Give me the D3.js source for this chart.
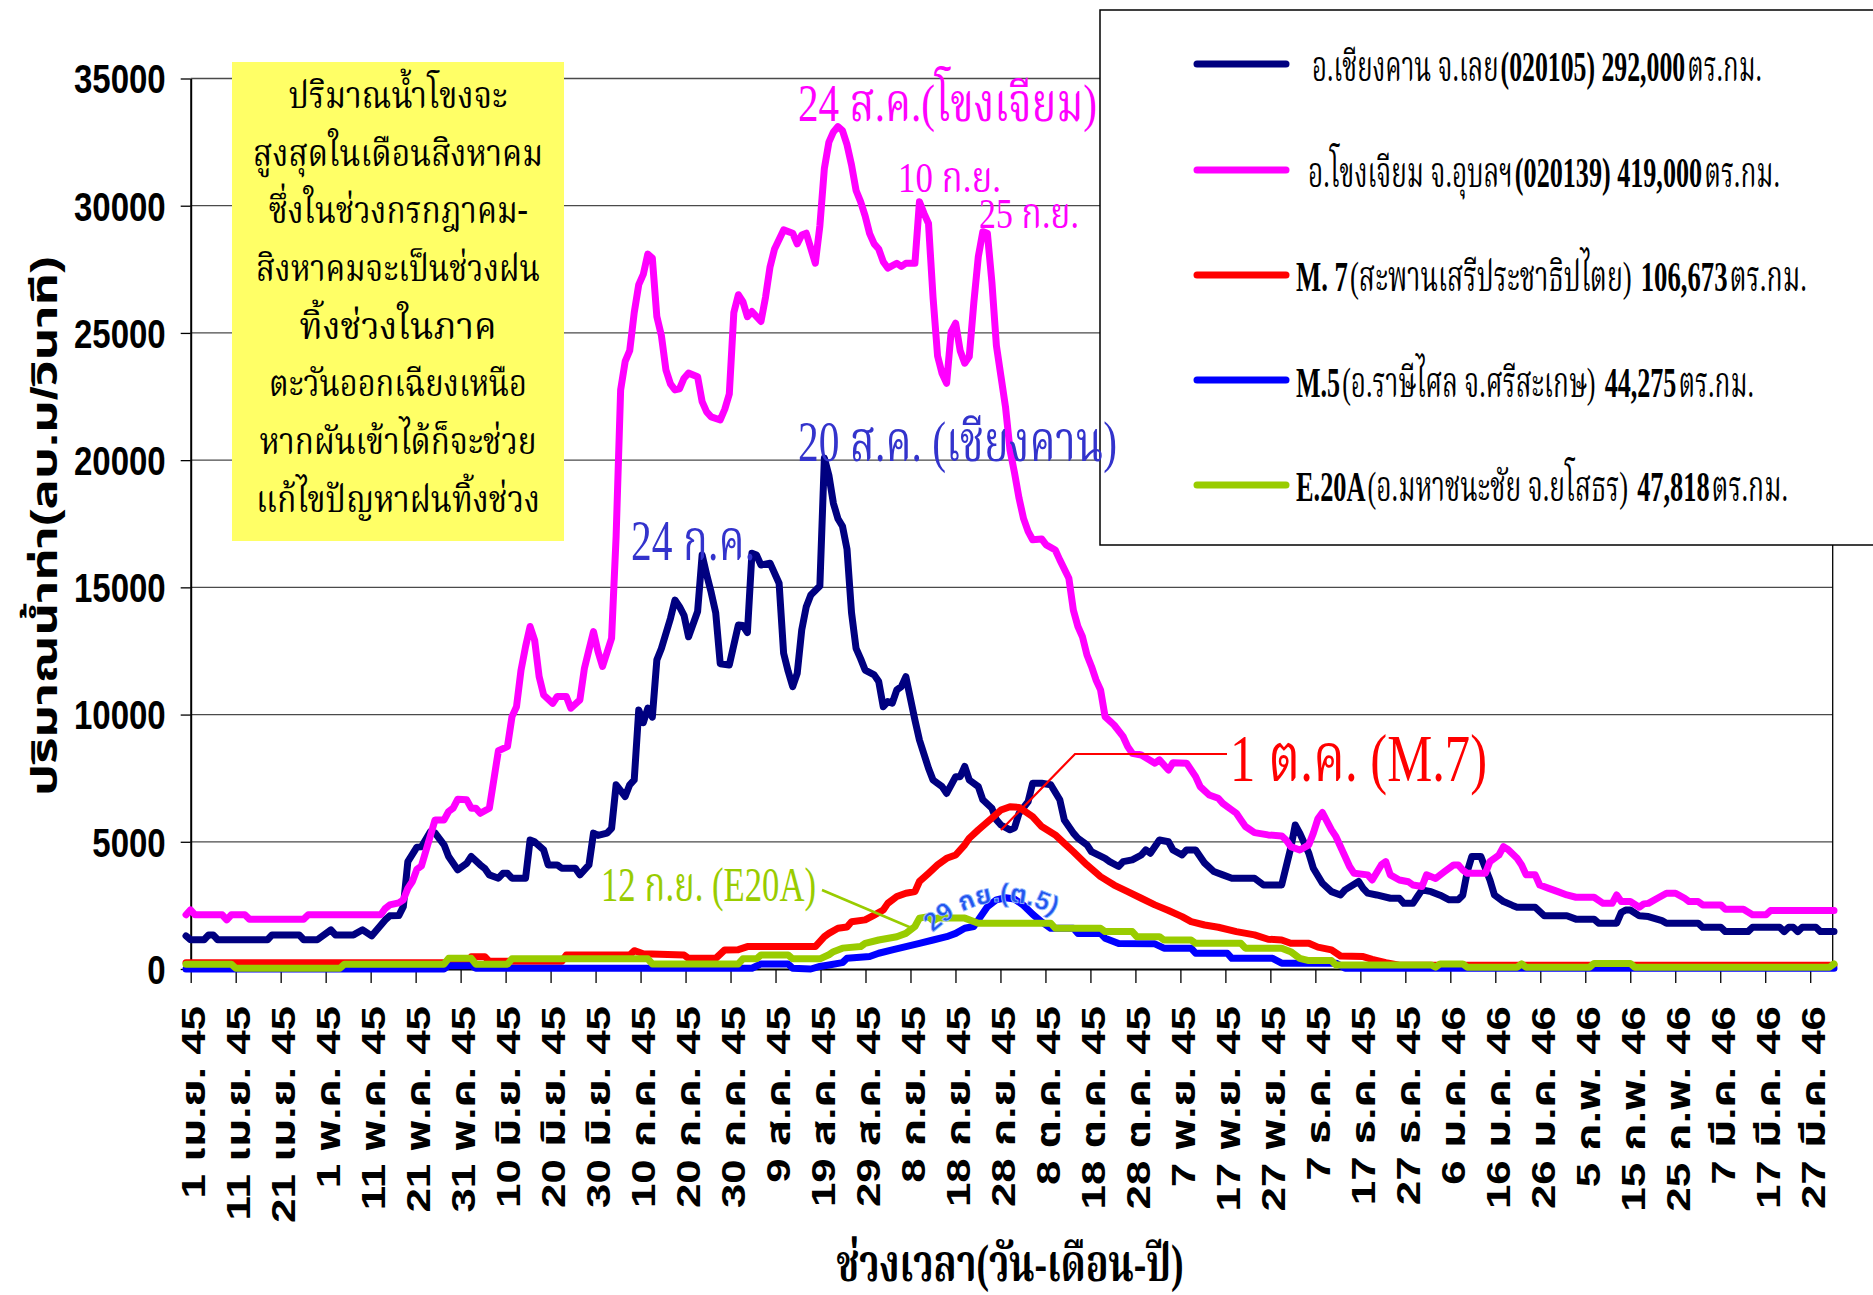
<!DOCTYPE html>
<html>
<head>
<meta charset="utf-8">
<script src="https://cdn.jsdelivr.net/npm/d3@7"></script>
<style>
  body { margin: 0; background: #fff; }
  svg { display: block; }
</style>
</head>
<body>
<svg id="chart" width="1873" height="1295"></svg>
<script>
// Daily discharge (m3/s), 1 เม.ย. 2545 – 31 มี.ค. 2546.
// Each pair is [day index from 1 เม.ย. 45, discharge].
const chiangKhan = [[0,1300],[1,1150],[4,1150],[5,1340],[6,1340],[7,1150],[18,1150],[19,1340],[25,1340],[26,1150],[29,1150],[32,1540],[33,1340],[37,1340],[39,1540],[41,1300],[44,1930],[45,2090],[47,2100],[48,2450],[49,4220],[51,4790],[52,4800],[54,5400],[55,5350],[57,4880],[58,4420],[60,3900],[62,4150],[63,4420],[65,4090],[66,3950],[67,3700],[69,3570],[70,3760],[71,3760],[72,3570],[75,3570],[76,5070],[77,5000],[79,4680],[80,4090],[82,4090],[83,3960],[86,3960],[87,3700],[89,4090],[90,5340],[91,5250],[93,5340],[94,5530],[95,7240],[97,6780],[98,7240],[99,7430],[100,10180],[101,9680],[102,10250],[103,9900],[104,12150],[105,12600],[107,13780],[108,14500],[109,14240],[110,13900],[111,13060],[113,14050],[114,16270],[115,15500],[116,14800],[117,14000],[118,12000],[120,11950],[122,13520],[123,13500],[124,13220],[125,16340],[126,16270],[127,15880],[129,15950],[131,15160],[132,12410],[133,11700],[134,11100],[135,11620],[136,13330],[137,14240],[138,14700],[140,15050],[141,20080],[142,19400],[143,18300],[144,17700],[145,17400],[146,16500],[147,14000],[148,12600],[149,12200],[150,11750],[152,11560],[153,11300],[154,10310],[155,10510],[156,10450],[157,10970],[158,11100],[159,11490],[161,9790],[162,9000],[164,7890],[165,7430],[167,7170],[168,6900],[170,7560],[171,7560],[172,7960],[173,7430],[175,7170],[176,6650],[178,6320],[179,5860],[180,5660],[182,5470],[183,5550],[184,6120],[186,6580],[187,7300],[189,7300],[191,7240],[193,6650],[194,5860],[196,5340],[197,5140],[199,4880],[200,4610],[203,4350],[204,4220],[206,4030],[207,4220],[209,4290],[211,4480],[212,4680],[213,4550],[215,5070],[217,5000],[218,4680],[220,4480],[221,4680],[223,4680],[225,4160],[227,3830],[229,3700],[231,3570],[236,3570],[238,3300],[242,3300],[244,4750],[245,5660],[246,5340],[248,4550],[249,3960],[251,3370],[253,3040],[255,2910],[256,3110],[259,3440],[260,3170],[261,2980],[263,2910],[266,2780],[268,2780],[269,2580],[271,2580],[272,2850],[273,3110],[275,3040],[277,2900],[279,2720],[281,2720],[282,2900],[283,3830],[284,4420],[286,4420],[288,3500],[289,2910],[291,2650],[293,2500],[294,2430],[298,2430],[299,2260],[300,2090],[305,2090],[307,1960],[311,1960],[312,1800],[316,1800],[317,2220],[318,2320],[319,2320],[321,2090],[323,2060],[326,1900],[327,1800],[334,1800],[335,1640],[339,1640],[340,1470],[345,1470],[346,1640],[352,1640],[353,1470],[354,1640],[355,1640],[356,1470],[357,1640],[360,1640],[361,1470],[364,1470]];

const khongChiam = [[0,2130],[1,2320],[2,2130],[8,2130],[9,1930],[10,2130],[13,2130],[14,1960],[26,1960],[27,2130],[43,2130],[44,2380],[45,2520],[47,2600],[48,2720],[49,3170],[50,3440],[51,3920],[52,4050],[55,5860],[57,5860],[58,6190],[59,6320],[60,6670],[62,6650],[63,6320],[64,6320],[65,6120],[67,6320],[69,8580],[71,8740],[72,9920],[73,10310],[74,11750],[75,12670],[76,13460],[77,12930],[78,11490],[79,10770],[81,10440],[82,10710],[84,10710],[85,10250],[87,10580],[88,11820],[89,12540],[90,13260],[91,12480],[92,11890],[94,13000],[95,17000],[96,22760],[97,23880],[98,24300],[99,25800],[100,26900],[101,27300],[102,28100],[103,27940],[104,25640],[105,24900],[106,23550],[107,23000],[108,22760],[109,22800],[110,23220],[111,23420],[113,23280],[114,22300],[115,21900],[116,21700],[118,21580],[119,22000],[120,22600],[121,25800],[122,26500],[123,26230],[124,25640],[125,25840],[127,25450],[128,26400],[129,27600],[130,28300],[132,29050],[134,28920],[135,28500],[136,28850],[137,28920],[139,27740],[140,29200],[141,31470],[142,32500],[143,32900],[144,33110],[145,32950],[146,32400],[147,31600],[148,30600],[149,30160],[150,29600],[151,28900],[152,28500],[153,28300],[154,27800],[155,27550],[157,27740],[158,27610],[159,27740],[161,27740],[162,30160],[163,29700],[164,29300],[165,26400],[166,24100],[167,23400],[168,23020],[169,25050],[170,25380],[171,24300],[172,23810],[173,24070],[174,26170],[175,28000],[176,28980],[177,28920],[178,27000],[179,24500],[180,23300],[181,22100],[182,20400],[183,19500],[184,18500],[185,17700],[186,17200],[187,16870],[189,16900],[190,16670],[192,16470],[193,16080],[195,15360],[196,14100],[197,13460],[198,13060],[199,12340],[200,11890],[201,11360],[202,10970],[203,9920],[205,9590],[207,9130],[208,8740],[209,8480],[211,8410],[214,8090],[215,8220],[217,7820],[218,8110],[221,8090],[223,7560],[224,7170],[226,6840],[228,6710],[229,6510],[231,6250],[232,6120],[233,5860],[234,5600],[236,5360],[239,5270],[242,5230],[243,5070],[244,4810],[246,4680],[248,4880],[249,5340],[250,5900],[251,6150],[253,5470],[254,5200],[256,4420],[257,4030],[258,3760],[261,3700],[262,3500],[264,4090],[265,4220],[266,3700],[268,3500],[270,3430],[271,3300],[273,3240],[274,3700],[276,3560],[278,3830],[280,4090],[281,4090],[282,3890],[283,3760],[287,3760],[288,4220],[290,4480],[291,4810],[292,4700],[294,4350],[295,4090],[296,3700],[298,3700],[299,3300],[301,3170],[303,3040],[305,2910],[307,2820],[311,2820],[313,2580],[315,2580],[316,2910],[317,2650],[319,2650],[321,2430],[322,2560],[323,2580],[325,2780],[327,2980],[329,2980],[331,2780],[332,2650],[334,2650],[335,2520],[339,2520],[340,2350],[344,2350],[346,2130],[349,2130],[350,2300],[364,2300]];

const m7 = [[0,250],[62,250],[63,480],[66,480],[67,300],[83,300],[84,550],[98,550],[99,720],[101,600],[110,550],[111,420],[117,420],[119,750],[122,760],[124,880],[139,880],[141,1270],[142,1400],[144,1600],[146,1650],[147,1860],[150,1930],[152,2120],[154,2320],[155,2580],[157,2850],[159,2980],[161,3040],[162,3440],[164,3760],[166,4090],[168,4350],[170,4480],[172,4880],[173,5140],[175,5470],[178,5930],[180,6250],[182,6380],[184,6350],[187,5990],[189,5600],[192,5270],[194,4940],[196,4610],[199,4090],[202,3630],[205,3300],[208,3040],[211,2780],[214,2520],[217,2300],[220,2060],[222,1860],[225,1730],[228,1640],[232,1470],[236,1340],[239,1170],[242,1140],[244,1010],[248,1010],[250,860],[253,750],[255,510],[260,490],[262,380],[265,250],[268,150],[364,150]];

const m5 = [[0,0],[57,0],[58,130],[63,130],[64,30],[125,30],[127,200],[133,200],[134,30],[138,0],[140,100],[142,160],[145,250],[146,420],[151,490],[153,620],[156,750],[159,880],[162,1010],[165,1140],[168,1270],[170,1400],[172,1600],[174,1670],[175,1930],[177,2450],[179,2720],[181,2800],[183,2750],[185,2500],[187,2150],[189,1850],[191,1600],[196,1600],[197,1400],[202,1400],[203,1210],[206,1000],[214,990],[216,820],[222,820],[223,620],[230,620],[231,420],[240,420],[242,230],[254,230],[256,30],[364,30]];

const e20a = [[0,190],[10,190],[11,30],[34,30],[35,190],[57,190],[58,420],[63,420],[64,190],[71,190],[72,400],[102,400],[103,200],[122,200],[123,400],[126,400],[127,550],[133,550],[134,400],[140,400],[142,560],[143,680],[145,820],[149,880],[150,1010],[153,1140],[157,1270],[159,1400],[161,1670],[162,2000],[164,2060],[165,1900],[166,2000],[172,2000],[175,1800],[191,1800],[192,1600],[202,1600],[203,1470],[209,1470],[210,1270],[215,1270],[216,1140],[222,1140],[223,1010],[233,1010],[234,820],[242,820],[244,680],[246,420],[248,330],[253,330],[254,160],[275,160],[276,70],[277,200],[282,200],[283,70],[294,70],[295,200],[296,70],[310,70],[311,220],[319,220],[320,70],[363,70],[364,200]];

// legend entries: [text, bold?, gap after piece]
const seriesNames = [
  [["อ.เชียงคาน จ.เลย", 0, 2], ["(020105) 292,000", 1, 2], ["ตร.กม.", 0, 0]],
  [["อ.โขงเจียม จ.อุบลฯ", 0, 2], ["(020139) 419,000", 1, 2], ["ตร.กม.", 0, 0]],
  [["M. 7", 1, 2], ["(สะพานเสรีประชาธิปไตย)", 0, 9], ["106,673", 1, 2], ["ตร.กม.", 0, 0]],
  [["M.5", 1, 2], ["(อ.ราษีไศล จ.ศรีสะเกษ)", 0, 9], ["44,275", 1, 2], ["ตร.กม.", 0, 0]],
  [["E.20A", 1, 2], ["(อ.มหาชนะชัย จ.ยโสธร)", 0, 9], ["47,818", 1, 2], ["ตร.กม.", 0, 0]]
];
const seriesColors = ["#000080", "#FF00FF", "#FF0000", "#0000FF", "#99CC00"];

const yTickValues = [0, 5000, 10000, 15000, 20000, 25000, 30000, 35000];
const tickLabels = ["1 เม.ย. 45","11 เม.ย. 45","21 เม.ย. 45","1 พ.ค. 45","11 พ.ค. 45","21 พ.ค. 45","31 พ.ค. 45",
  "10 มิ.ย. 45","20 มิ.ย. 45","30 มิ.ย. 45","10 ก.ค. 45","20 ก.ค. 45","30 ก.ค. 45","9 ส.ค. 45","19 ส.ค. 45",
  "29 ส.ค. 45","8 ก.ย. 45","18 ก.ย. 45","28 ก.ย. 45","8 ต.ค. 45","18 ต.ค. 45","28 ต.ค. 45","7 พ.ย. 45",
  "17 พ.ย. 45","27 พ.ย. 45","7 ธ.ค. 45","17 ธ.ค. 45","27 ธ.ค. 45","6 ม.ค. 46","16 ม.ค. 46","26 ม.ค. 46",
  "5 ก.พ. 46","15 ก.พ. 46","25 ก.พ. 46","7 มี.ค. 46","17 มี.ค. 46","27 มี.ค. 46"];

const noteLines = ["ปริมาณน้ำโขงจะ","สูงสุดในเดือนสิงหาคม","ซึ่งในช่วงกรกฎาคม-","สิงหาคมจะเป็นช่วงฝน",
  "ทิ้งช่วงในภาค","ตะวันออกเฉียงเหนือ","หากผันเข้าได้ก็จะช่วย","แก้ไขปัญหาฝนทิ้งช่วง"];

// ---------------------------------------------------------------
const SANS = "'Liberation Sans', Arial, 'Noto Sans Thai', 'Noto Sans', sans-serif";
const SERIF = "'Liberation Serif', 'Times New Roman', 'Noto Serif Thai', 'Noto Sans Thai', serif";
const THAI = "'Noto Serif Thai', 'Noto Sans Thai', 'Liberation Serif', serif";
const STRETCH = 1.25;

const svg = d3.select("#chart");
const plot = { left: 190.7, right: 1832.7, top: 78.5, bottom: 969 };

const y = d3.scaleLinear().domain([0, 35000]).range([plot.bottom, plot.top]);
const xEdge = d3.scaleLinear().domain([0, 365]).range([plot.left, plot.right]);
const xBand = d3.scaleBand().domain(d3.range(365)).range([plot.left, plot.right]);
const xDay = d3.scaleLinear().domain([0, 364]).range([186, 1834]);

// text drawn with the same vertical stretch as the rest of the artwork
function stretchedText(parent, x, y0, str, opts) {
  const g = parent.append("g")
    .attr("transform", `translate(${x},${y0}) scale(1,${opts.sy || STRETCH})${opts.rotate ? ` rotate(${opts.rotate})` : ""}`);
  const t = g.append("text")
    .attr("font-family", opts.family || SANS)
    .attr("font-size", opts.size)
    .attr("font-weight", opts.weight || "normal")
    .attr("fill", opts.fill || "#000")
    .attr("text-anchor", opts.anchor || "start")
    .attr("dominant-baseline", opts.baseline || "auto")
    .text(str);
  if (opts.width) t.attr("textLength", opts.width).attr("lengthAdjust", "spacingAndGlyphs");
  return t;
}

// a row of mixed-weight pieces, squeezed horizontally into a given width
function fittedRow(parent, x, y0, pieces, width, opts) {
  const g = parent.append("g");
  const texts = pieces.map(([str, bold]) => g.append("text")
    .attr("font-family", opts.family)
    .attr("font-size", opts.size)
    .attr("font-weight", bold ? "bold" : "normal")
    .attr("dominant-baseline", "central")
    .attr("fill", "#000")
    .text(str));
  const natural = texts.map(t => t.node().getComputedTextLength());
  const gaps = d3.sum(pieces, p => p[2]);
  const k = (width - gaps) / d3.sum(natural);
  g.attr("transform", `translate(${x},${y0}) scale(${k},${opts.sy})`);
  let cx = 0;
  texts.forEach((t, i) => {
    t.attr("x", cx);
    cx += natural[i] + pieces[i][2] / k;
  });
}

// gridlines
svg.append("g").selectAll("line").data(yTickValues.filter(v => v > 0)).join("line")
  .attr("x1", plot.left).attr("x2", plot.right)
  .attr("y1", d => y(d)).attr("y2", d => y(d))
  .attr("stroke", "#4a4a4a").attr("stroke-width", 1.3);

// right border of the plot area
svg.append("line").attr("x1", plot.right).attr("x2", plot.right)
  .attr("y1", plot.top).attr("y2", plot.bottom).attr("stroke", "#000").attr("stroke-width", 1.3);

// y axis
const yAxis = svg.append("g").attr("transform", `translate(${plot.left},0)`)
  .call(d3.axisLeft(y).tickValues(yTickValues).tickSize(10).tickSizeOuter(0).tickFormat(d3.format("d")));
yAxis.select(".domain").attr("stroke", "#000").attr("stroke-width", 2);
yAxis.selectAll(".tick line").attr("stroke", "#000").attr("stroke-width", 1.3);
yAxis.selectAll(".tick text").remove();
yAxis.selectAll(".tick").each(function (d) {
  stretchedText(d3.select(this), -25, 0, String(d), { size: 33, weight: "bold", anchor: "end", baseline: "central" });
});

// x axis: ticks every ten days on category boundaries
const xAxis = svg.append("g").attr("transform", `translate(0,${plot.bottom})`)
  .call(d3.axisBottom(xEdge).tickValues(d3.range(0, 365, 10)).tickSize(14).tickSizeOuter(0).tickFormat(""));
xAxis.select(".domain").attr("stroke", "#000").attr("stroke-width", 2);
xAxis.selectAll(".tick line").attr("stroke", "#000").attr("stroke-width", 1.3);

const xLabels = svg.append("g");
tickLabels.forEach((lab, i) => {
  const cx = xBand(i * 10) + xBand.bandwidth() / 2;
  stretchedText(xLabels, cx + 1, 1006, lab, { size: 33, weight: "bold", anchor: "end", baseline: "central", rotate: -90, sy: 1.33 });
});

// axis titles
svg.append("text")
  .attr("transform", "translate(44,526) rotate(-90)")
  .attr("font-family", SANS).attr("font-weight", "bold").attr("font-size", 36)
  .attr("text-anchor", "middle").attr("dominant-baseline", "central")
  .attr("textLength", 540).attr("lengthAdjust", "spacingAndGlyphs")
  .text("ปริมาณน้ำท่า(ลบ.ม/วินาที)");
stretchedText(svg, 1010, 1281, "ช่วงเวลา(วัน-เดือน-ปี)", { size: 40, weight: "bold", family: SERIF, anchor: "middle", width: 347, sy: 1.3 });

// note box
const note = svg.append("g");
note.append("rect").attr("x", 232).attr("y", 62).attr("width", 332).attr("height", 479).attr("fill", "#FFFF66");
const noteWidths = [219, 290, 259, 284, 197, 258, 277, 284];
noteLines.forEach((ln, i) => {
  stretchedText(note, 398, 98 + i * 57.7, ln, { size: 30, family: THAI, anchor: "middle", baseline: "central", width: noteWidths[i] });
});

// series
const line = d3.line().x(d => xDay(d[0])).y(d => y(d[1]));
const allSeries = [chiangKhan, khongChiam, m7, m5, e20a];
svg.append("g").selectAll("path").data(allSeries).join("path")
  .attr("d", line)
  .attr("fill", "none")
  .attr("stroke", (d, i) => seriesColors[i])
  .attr("stroke-width", 7)
  .attr("stroke-linejoin", "round")
  .attr("stroke-linecap", "round");

// legend
const legend = svg.append("g");
legend.append("rect").attr("x", 1100).attr("y", 10).attr("width", 800).attr("height", 535)
  .attr("fill", "#fff").attr("stroke", "#000").attr("stroke-width", 1.5);
const legendY = [64, 170, 275, 380, 485];
const legendX = [1312, 1308, 1296, 1296, 1296];
const legendW = [450, 472, 511, 458, 492];
seriesNames.forEach((parts, i) => {
  legend.append("line").attr("x1", 1197).attr("x2", 1286).attr("y1", legendY[i]).attr("y2", legendY[i])
    .attr("stroke", seriesColors[i]).attr("stroke-width", 7).attr("stroke-linecap", "round");
  fittedRow(legend, legendX[i], legendY[i] + 2, parts, legendW[i], { size: 36, family: SERIF, sy: 1.2 });
});

// annotations
const ann = svg.append("g");
stretchedText(ann, 798, 121, "24 ส.ค.(โขงเจียม)", { size: 44, family: SERIF, fill: "#FF00FF", width: 299, sy: 1.2 });
stretchedText(ann, 898, 192, "10 ก.ย.", { size: 36, family: SERIF, fill: "#FF00FF", width: 103, sy: 1.2 });
stretchedText(ann, 979, 228, "25 ก.ย.", { size: 36, family: SERIF, fill: "#FF00FF", width: 100, sy: 1.2 });
stretchedText(ann, 798, 461, "20 ส.ค. (เชียงคาน)", { size: 48, family: SERIF, fill: "#3333CC", width: 319, sy: 1.2 });
stretchedText(ann, 631, 560, "24 ก.ค.", { size: 48, family: SERIF, fill: "#3333CC", width: 124, sy: 1.2 });
stretchedText(ann, 1230, 781, "1 ต.ค. (M.7)", { size: 56, family: SERIF, fill: "#FF0000", width: 257, sy: 1.2 });
stretchedText(ann, 601, 901, "12 ก.ย. (E20A)", { size: 40, family: SERIF, fill: "#99CC00", width: 215, sy: 1.2 });

ann.append("polyline").attr("points", "1227,754 1075,754 1001,830")
  .attr("fill", "none").attr("stroke", "#FF0000").attr("stroke-width", 2.2);
ann.append("line").attr("x1", 822).attr("y1", 890).attr("x2", 914).attr("y2", 929)
  .attr("stroke", "#99CC00").attr("stroke-width", 2.5);

// arched label for M.5
const defs = svg.append("defs");
defs.append("path").attr("id", "m5arc").attr("d", "M 930 935 Q 1000 870 1078 932");
ann.append("text")
  .attr("font-family", SANS).attr("font-size", 26).attr("font-weight", "bold")
  .attr("fill", "#2255EE").attr("stroke", "#99BBFF").attr("stroke-width", 0.8)
  .append("textPath").attr("href", "#m5arc").attr("startOffset", "2%")
  .text("29 กย.(ต.5)");
</script>
</body>
</html>
